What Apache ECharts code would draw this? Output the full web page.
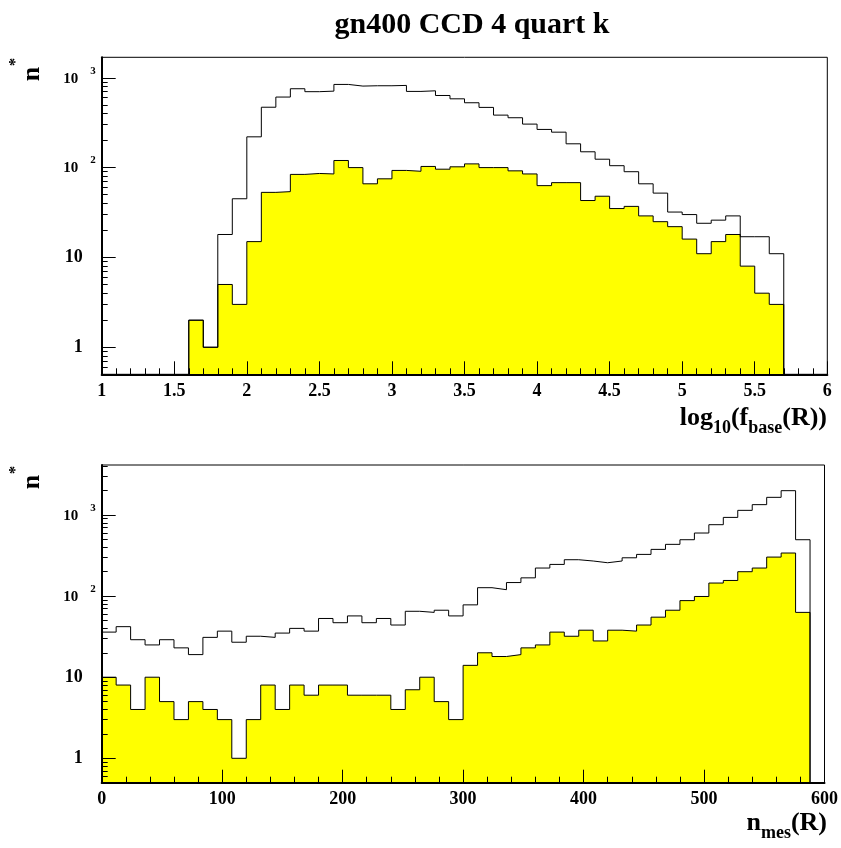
<!DOCTYPE html>
<html><head><meta charset="utf-8">
<script src="https://cdn.jsdelivr.net/npm/echarts@6/dist/echarts.min.js"></script>
<style>html,body{margin:0;padding:0;background:#fff}#c{width:841px;height:848px}</style>
</head><body><div id="c"></div>
<script>
// ---- data ----
const topBinStart = 1.6;
const topBinWidth = 0.1;
const topTotal = [2, 1, 18, 45, 220, 470, 610, 755, 700, 710,
  843, 808, 815, 815, 822, 705, 716, 635, 583, 527,
  468, 384, 359, 305, 266, 248, 184, 150, 124, 105,
  90, 66, 52, 32, 30, 24, 26, 29, 17, 17,
  11];
const topSelected = [2, 1, 5, 3, 15, 53, 54, 84, 86, 85,
  120, 100, 66, 75, 93, 91, 103, 96, 102, 110,
  100, 100, 92, 85, 63, 68, 68, 43, 48, 35,
  37, 29, 25, 22, 16, 11, 15, 18, 8, 4,
  3];
const botBinStart = 0;
const botBinWidth = 12;
const botTotal = [36, 42, 29, 25, 29, 23, 19, 31, 37, 27,
  32, 31, 35, 40, 37, 53, 47, 57, 47, 53,
  44, 65, 63, 67, 57, 78, 127, 120, 147, 168,
  222, 246, 281, 271, 258, 271, 297, 327, 377, 435,
  496, 600, 760, 935, 1142, 1343, 1653, 1997, 496];
const botSelected = [10, 8, 4, 10, 5, 3, 5, 4, 3, 1,
  3, 8, 4, 8, 6, 8, 8, 6, 6, 6,
  4, 7, 10, 5, 3, 14, 20, 18, 19, 23,
  25, 36, 32, 38, 28, 38, 37, 44, 55, 67,
  88, 99, 145, 156, 200, 222, 303, 340, 63];
const yMajorTicks = [1, 10, 100, 1000];
const topXRange = [1, 6];
const botXRange = [0, 600];
const topYRange = [0.5, 1690];
const botYRange = [0.5, 4140];

// ---- helpers ----
const FF = '"Liberation Serif", "Times New Roman", serif';
function histPoints(start, width, vals, floor) {
  const r = x => Math.round(x * 1e6) / 1e6;
  const pts = [[r(start), floor]];
  vals.forEach((v, i) => pts.push([r(start + i * width), v]));
  const end = r(start + vals.length * width);
  pts.push([end, vals[vals.length - 1]]);
  pts.push([end, floor]);
  return pts;
}
function minorTicks(range) {
  const out = [];
  for (let k = -1; k <= 4; k++) {
    for (let m = 2; m <= 9; m++) {
      const v = Math.round(m * Math.pow(10, k) * 1000) / 1000;
      if (v > range[0] && v < range[1]) out.push(v);
    }
  }
  return out;
}
function fmtY(v) {
  if (v >= 100) return '{e|10}{s|' + Math.round(Math.log10(v)) + '}';
  return '{p|' + v + '}';
}
const richY = {
  e: {fontSize: 15, fontFamily: FF, fontWeight: 'bold', color: '#000', verticalAlign: 'bottom', padding: [0, 0, 4, 0]},
  s: {fontSize: 11, fontFamily: FF, fontWeight: 'bold', color: '#000', verticalAlign: 'bottom', padding: [0, 0, 14, 12]},
  p: {fontSize: 18, fontFamily: FF, fontWeight: 'bold', color: '#000', padding: [0, 13, 0, 0]}
};
function xAxisCfg(gi, range, interval) {
  return {
    type: 'value', gridIndex: gi, position: 'bottom', min: range[0], max: range[1], interval: interval, z: 10,
    axisLine: {show: true, onZero: false, lineStyle: {color: '#000', width: 2}},
    axisTick: {show: true, inside: true, length: 13, lineStyle: {color: '#000', width: 1}},
    minorTick: {show: true, splitNumber: 5, length: 6, lineStyle: {color: '#000', width: 1}},
    axisLabel: {color: '#000', fontFamily: FF, fontWeight: 'bold', fontSize: 18, margin: 8, showMinLabel: true, showMaxLabel: true},
    splitLine: {show: false}, minorSplitLine: {show: false}
  };
}
function yAxesCfg(gi, range) {
  return [{
    type: 'log', logBase: 10, gridIndex: gi, position: 'left', offset: 0, min: range[0], max: range[1], z: 10,
    axisLine: {show: true, onZero: false, lineStyle: {color: '#000', width: 2}},
    axisTick: {show: true, inside: true, length: 14, customValues: yMajorTicks, lineStyle: {color: '#000', width: 1}},
    axisLabel: {show: true, customValues: yMajorTicks, formatter: fmtY, rich: richY, margin: 6},
    splitLine: {show: false}
  }, {
    type: 'log', logBase: 10, gridIndex: gi, position: 'left', offset: 0, min: range[0], max: range[1], z: 10,
    axisLine: {show: false, onZero: false},
    axisTick: {show: true, inside: true, length: 6, customValues: minorTicks(range), lineStyle: {color: '#000', width: 1}},
    axisLabel: {show: false},
    splitLine: {show: false}
  }];
}
function histSeries(xi, yi, pts, filled) {
  const s = {
    type: 'line', xAxisIndex: xi, yAxisIndex: yi, step: 'end', symbol: 'none',
    data: pts, lineStyle: {color: '#000', width: 1}, z: filled ? 2 : 3, animation: false
  };
  if (filled) s.areaStyle = {color: '#ffff00', opacity: 1, origin: 'start'};
  return s;
}

const chart = echarts.init(document.getElementById('c'), null, {renderer: 'canvas'});
const ya = yAxesCfg(0, topYRange), yb = yAxesCfg(1, botYRange);
chart.setOption({
  backgroundColor: '#fff',
  animation: false,
  grid: [
    {left: 101.7, top: 57.3, width: 725.6, height: 317, show: true, borderColor: '#000', borderWidth: 1, backgroundColor: 'transparent'},
    {left: 101.7, top: 465, width: 725.6, height: 317.7, show: true, borderColor: '#000', borderWidth: 1, backgroundColor: 'transparent'}
  ],
  xAxis: [xAxisCfg(0, topXRange, 0.5), xAxisCfg(1, botXRange, 100)],
  yAxis: [ya[0], ya[1], yb[0], yb[1]],
  series: [
    histSeries(0, 0, histPoints(topBinStart, topBinWidth, topSelected, topYRange[0]), true),
    histSeries(0, 0, histPoints(topBinStart, topBinWidth, topTotal, topYRange[0]), false),
    histSeries(1, 2, histPoints(botBinStart, botBinWidth, botSelected, botYRange[0]), true),
    histSeries(1, 2, histPoints(botBinStart, botBinWidth, botTotal, botYRange[0]), false)
  ],
  graphic: [
    {type: 'text', x: 472, y: 25, style: {text: 'gn400 CCD 4 quart k', fontSize: 30, fontFamily: FF, fontWeight: 'bold', fill: '#000', align: 'center', verticalAlign: 'middle'}},
    {type: 'text', x: 32, y: 74, rotation: Math.PI / 2, style: {text: 'n', fontSize: 26, fontFamily: FF, fontWeight: 'bold', fill: '#000', align: 'center', verticalAlign: 'middle'}},
    {type: 'text', x: 16, y: 62, rotation: Math.PI / 2, style: {text: '*', fontSize: 17, fontFamily: FF, fontWeight: 'bold', fill: '#000', align: 'center', verticalAlign: 'middle'}},
    {type: 'text', x: 32, y: 482, rotation: Math.PI / 2, style: {text: 'n', fontSize: 26, fontFamily: FF, fontWeight: 'bold', fill: '#000', align: 'center', verticalAlign: 'middle'}},
    {type: 'text', x: 16, y: 470, rotation: Math.PI / 2, style: {text: '*', fontSize: 17, fontFamily: FF, fontWeight: 'bold', fill: '#000', align: 'center', verticalAlign: 'middle'}},
    {type: 'text', x: 827, y: 421, style: {
      text: '{m|log}{s|10}{m|(f}{s|base}{m|(R))}', align: 'right', verticalAlign: 'middle',
      rich: {
        m: {fontSize: 26, fontFamily: FF, fontWeight: 'bold', fill: '#000', verticalAlign: 'bottom', padding: [0, 0, 6, 0]},
        s: {fontSize: 18, fontFamily: FF, fontWeight: 'bold', fill: '#000', verticalAlign: 'bottom'}
      }}},
    {type: 'text', x: 827, y: 826, style: {
      text: '{m|n}{s|mes}{m|(R)}', align: 'right', verticalAlign: 'middle',
      rich: {
        m: {fontSize: 26, fontFamily: FF, fontWeight: 'bold', fill: '#000', verticalAlign: 'bottom', padding: [0, 0, 6, 0]},
        s: {fontSize: 18, fontFamily: FF, fontWeight: 'bold', fill: '#000', verticalAlign: 'bottom'}
      }}}
  ]
});
</script></body></html>
